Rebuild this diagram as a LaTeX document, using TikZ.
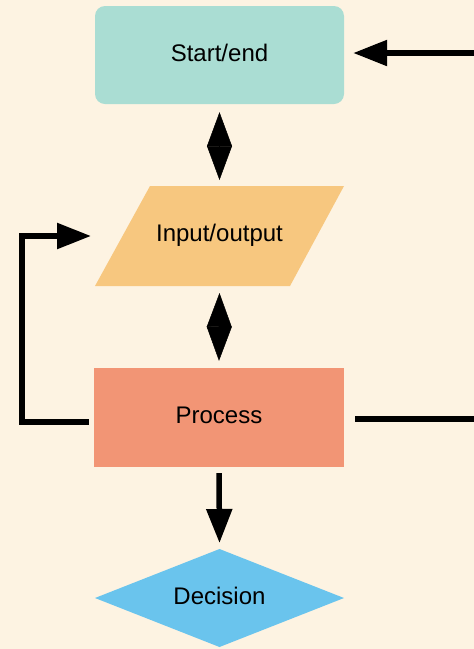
\documentclass[tikz,border=0pt]{standalone}
\usepackage{fontspec}
\setmainfont{Liberation Sans}
\usetikzlibrary{arrows.meta,shapes.geometric}
\definecolor{bg}{HTML}{FDF3E2}
\definecolor{teal}{HTML}{AADDD3}
\definecolor{orng}{HTML}{F7C77F}
\definecolor{salmon}{HTML}{F29575}
\definecolor{sky}{HTML}{6AC4ED}
\tikzset{
  lbl/.style={font=\fontsize{24}{28}\selectfont, text=black},
  conn/.style={line width=5.5pt, draw=black},
  tipA/.style={-{Triangle[length=34pt,width=25pt]}},
  kite/.style={line width=0.5pt, {Triangle[length=34pt,width=25pt]}-{Triangle[length=34pt,width=25pt]}},
}
\begin{document}
\begin{tikzpicture}[x=1pt,y=-1pt]
\fill[bg] (0,0) rectangle (474,649);
\useasboundingbox (0,0) rectangle (474,649);
% shapes
\node[fill=teal, rounded corners=10pt, minimum width=249pt, minimum height=98pt, inner sep=0pt] (start) at (219.5,55) {};
\node[lbl] (startT) at (219.5,53) {Start/end};
\fill[orng] (95,286) -- (150,186) -- (344,186) -- (290,286) -- cycle;
\node[lbl] (io) at (219.5,235) {Input/output};
\coordinate (ioT) at (219.5,186);
\coordinate (ioB) at (219.5,286);
\node[fill=salmon, minimum width=250pt, minimum height=99pt, inner sep=0pt] (proc) at (219,417.5) {};
\node[lbl] (procT) at (219,415) {Process};
\fill[sky] (95,598) -- (219.5,549) -- (344,598) -- (219.5,647) -- cycle;
\node[lbl] (dec) at (219.5,596) {Decision};
\coordinate (decN) at (219.5,549);
% free ends
\coordinate (rTop) at (474,53);
\coordinate (rMid) at (474,419);
\coordinate (lBot) at (22,422);
\coordinate (lTop) at (22,236);
\coordinate (ioL) at (91,236);
% connectors
\draw[kite] ([yshift=-8pt]start.south) -- ([yshift=6pt]ioT);
\draw[kite] ([yshift=-7pt]ioB) -- ([yshift=7pt]proc.north);
\draw[conn, tipA] ([yshift=-6pt]proc.south) -- ([yshift=6pt]decN);
\draw[conn, tipA] (rTop) -- ([xshift=9pt]start.east |- rTop);
\draw[conn, tipA] ([xshift=-5pt]proc.west |- lBot) -- (lBot) -- (lTop) -- (ioL);
\draw[conn] ([xshift=11pt]proc.east |- rMid) -- (rMid);
\end{tikzpicture}
\end{document}
